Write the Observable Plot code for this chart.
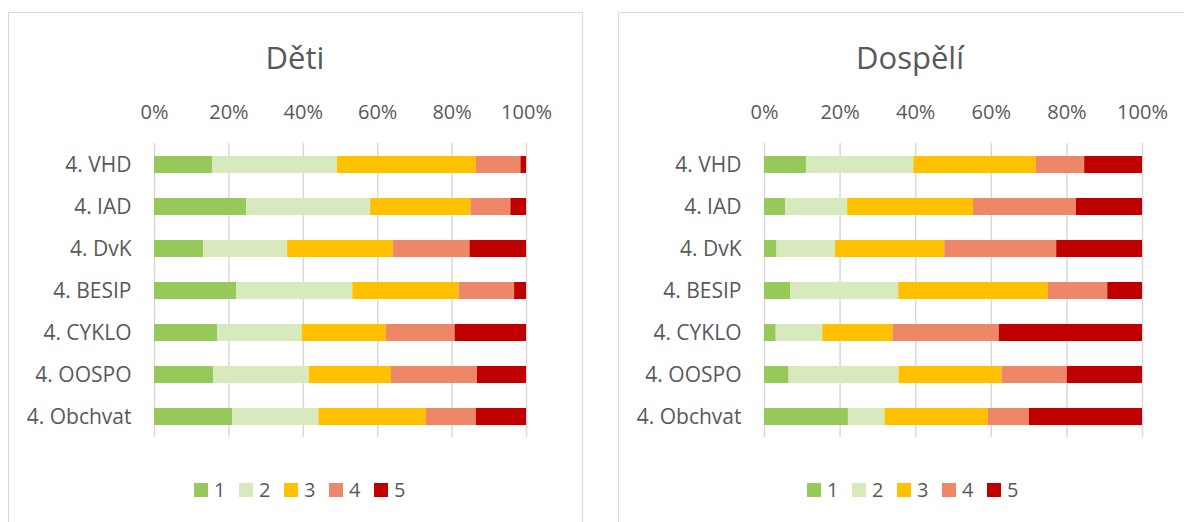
<!DOCTYPE html>
<html><head><meta charset="utf-8">
<script src="https://cdn.jsdelivr.net/npm/d3@7"></script>
<script src="https://cdn.jsdelivr.net/npm/@observablehq/plot@0.6"></script>
<style>
body{margin:0;background:#fff;width:1184px;height:522px;overflow:hidden;position:relative;font-family:"Open Sans",sans-serif;color:#595959}
.box{position:absolute;top:12px;height:540px;border:1px solid #d9d9d9;box-sizing:border-box}
.title{position:absolute;top:35px;height:44px;line-height:44px;text-align:center;font-size:31px;color:#595959}
.svgwrap{position:absolute;top:0}
.legend{position:absolute;top:480px;display:flex;font-size:20px;line-height:20px;color:#595959}
.item{display:flex;align-items:center;width:45px}
.sw{width:14px;height:14px;margin-right:6px}
</style>
</head><body>
<script>
const categories = ["4. VHD","4. IAD","4. DvK","4. BESIP","4. CYKLO","4. OOSPO","4. Obchvat"];
const scores = ["1","2","3","4","5"];
const colors = ["#97c95a","#d7e9bd","#ffc000","#ee8767","#c00000"];
const ticks = [0,20,40,60,80,100];

// Děti – share (%) of each score per category
const deti1 = [15.6,24.8,13.2,22.1,17.0,15.9,21.0];
const deti2 = [33.6,33.3,22.6,31.2,22.7,25.7,23.2];
const deti3 = [37.3,27.0,28.4,28.6,22.6,22.1,28.9];
const deti4 = [12.0,10.7,20.6,14.9,18.5,23.1,13.4];
const deti5 = [1.5,4.2,15.2,3.2,19.2,13.2,13.5];

// Dospělí
const dosp1 = [11.1,5.6,3.3,6.9,3.1,6.5,22.2];
const dosp2 = [28.4,16.4,15.5,28.6,12.3,29.1,9.7];
const dosp3 = [32.4,33.3,28.9,39.6,18.6,27.3,27.3];
const dosp4 = [12.8,27.2,29.6,15.7,28.1,17.2,10.9];
const dosp5 = [15.3,17.5,22.7,9.2,37.9,19.9,29.9];

function longData(series){
  const out=[];
  categories.forEach((c,i)=>series.forEach((s,j)=>out.push({cat:c,score:scores[j],value:s[i]})));
  return out;
}

function panel(cfg){
  const box=document.createElement("div");
  box.className="box";
  box.style.left=cfg.boxLeft+"px"; box.style.width=cfg.boxWidth+"px";
  document.body.appendChild(box);

  const data=longData(cfg.series);
  const chart=Plot.plot({
    width:cfg.width, height:450,
    marginLeft:cfg.mL, marginRight:cfg.mR, marginTop:143, marginBottom:13,
    style:{fontFamily:"'Open Sans', sans-serif",fontSize:"20px",color:"#595959",background:"transparent"},
    x:{domain:[0,100]},
    y:{domain:categories,paddingInner:0.6,paddingOuter:0.3},
    color:{domain:scores,range:colors},
    marks:[
      Plot.ruleX(ticks,{stroke:"#d9d9d9",strokeWidth:1.5}),
      Plot.barX(data,{y:"cat",x:"value",fill:"score",order:scores}),
      Plot.axisX({anchor:"top",ticks:ticks,tickSize:0,tickPadding:25,tickFormat:d=>d+"%",label:null,fontSize:20}),
      Plot.axisY({tickSize:0,tickPadding:23,label:null,fontSize:21})
    ]
  });
  const wrap=document.createElement("div");
  wrap.className="svgwrap"; wrap.style.left=cfg.left+"px";
  wrap.appendChild(chart);
  document.body.appendChild(wrap);

  const t=document.createElement("div");
  t.className="title"; t.textContent=cfg.title;
  t.style.left=(cfg.titleX-150)+"px"; t.style.width="300px";
  document.body.appendChild(t);

  const lg=document.createElement("div");
  lg.className="legend"; lg.style.left=cfg.legendX+"px";
  scores.forEach((s,i)=>{
    const it=document.createElement("div"); it.className="item";
    const sw=document.createElement("div"); sw.className="sw"; sw.style.background=colors[i];
    const lb=document.createElement("span"); lb.textContent=s;
    it.appendChild(sw); it.appendChild(lb); lg.appendChild(it);
  });
  document.body.appendChild(lg);
}

panel({title:"Děti",series:[deti1,deti2,deti3,deti4,deti5],boxLeft:8,boxWidth:575,left:0,width:590,mL:154,mR:64,titleX:295,legendX:194});
panel({title:"Dospělí",series:[dosp1,dosp2,dosp3,dosp4,dosp5],boxLeft:618,boxWidth:600,left:600,width:584,mL:164,mR:42,titleX:910,legendX:807});
</script>
</body></html>
